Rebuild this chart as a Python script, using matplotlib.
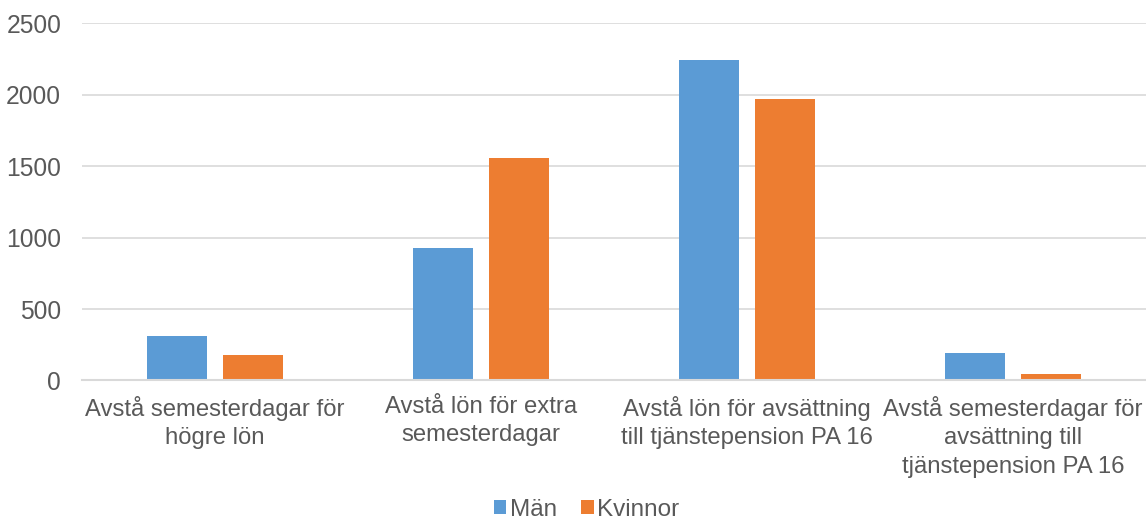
import numpy as np
import matplotlib
matplotlib.use('Agg')
import matplotlib.pyplot as plt

plt.rcParams['font.family'] = ['Liberation Sans', 'DejaVu Sans']

categories = ['Avstå semesterdagar för\nhögre lön',
              'Avstå lön för extra\nsemesterdagar',
              'Avstå lön för avsättning\ntill tjänstepension PA 16',
              'Avstå semesterdagar för\navsättning till\ntjänstepension PA 16']
man = [310, 930, 2240, 190]
kvinnor = [175, 1560, 1970, 42]
yticks = [0, 500, 1000, 1500, 2000, 2500]

text_col = '#595959'
grid_col = '#d9d9d9'

fig = plt.figure(figsize=(11.46, 5.24), dpi=100)
ax = fig.add_axes([0.0716, 0.274, 0.9284, 0.6815])

x = np.arange(len(categories))
w = 0.224
off = 0.142
ax.bar(x - off, man, w, color='#5b9bd5', label='Män', zorder=3)
ax.bar(x + off, kvinnor, w, color='#ed7d31', label='Kvinnor', zorder=3)

ax.set_xlim(-0.5, len(categories) - 0.5)
ax.set_ylim(0, 2500)
ax.set_yticks(yticks)
ax.set_yticklabels([str(v) for v in yticks])
ax.yaxis.grid(True, color=grid_col, linewidth=1.2, zorder=0)
ax.set_axisbelow(True)
for s in ['top', 'right', 'left']:
    ax.spines[s].set_visible(False)
ax.spines['bottom'].set_color(grid_col)
ax.spines['bottom'].set_linewidth(1.5)
ax.spines['bottom'].set_zorder(4)

ax.set_xticks(x)
ax.set_xticklabels(categories, linespacing=1.38, fontsize=17.2)
ax.tick_params(axis='both', length=0, labelcolor=text_col)
ax.tick_params(axis='y', pad=15, labelsize=17.7)
ax.tick_params(axis='x', pad=11)

fig.legend(loc='lower center', bbox_to_anchor=(0.512, -0.036), ncol=2,
           frameon=False, fontsize=17.5, labelcolor=text_col,
           handlelength=0.5, handleheight=0.5, handletextpad=0.15,
           columnspacing=1.0)

fig.savefig('out.png', dpi=100)
